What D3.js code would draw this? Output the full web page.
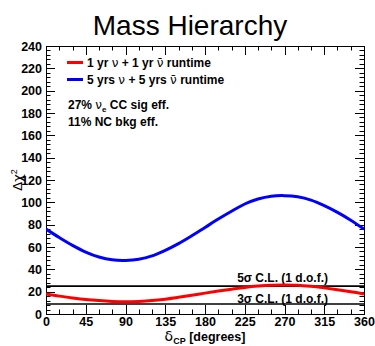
<!DOCTYPE html>
<html>
<head>
<meta charset="utf-8">
<script src="https://cdn.jsdelivr.net/npm/d3@7"></script>
<style>
  html, body { margin: 0; padding: 0; background: #fff; }
  svg { display: block; }
  text { font-family: "Liberation Sans", Arial, Helvetica, sans-serif; }
</style>
</head>
<body>
<svg id="chart" width="375" height="346"></svg>
<script>
// δCP sampling points (degrees)
const deltaCP = [0, 15, 30, 45, 60, 75, 90, 105, 120, 135, 150, 165, 180,
                 195, 210, 225, 240, 255, 270, 285, 300, 315, 330, 345, 360];

// Δχ² for 1 yr ν + 1 yr ν̄ runtime
const chi2OneYear = [18, 16, 14.4, 13, 12, 11.3, 11, 11.3, 12, 13.3, 15, 16.8, 18.7,
                     20.5, 22.2, 23.8, 25, 25.8, 26, 25.8, 24.8, 23.4, 21.8, 20, 18];

// Δχ² for 5 yrs ν + 5 yrs ν̄ runtime
const chi2FiveYears = [76, 68.5, 61.5, 55.5, 51, 48.5, 48, 49, 52, 57, 63, 70, 77.5,
                       85, 92, 98.5, 103, 105.5, 106, 105, 102, 97, 91, 84, 76];

// Confidence-level reference lines (1 d.o.f.)
const clLevels = [25, 9];
const clLabels = ["5σ C.L. (1 d.o.f.)", "3σ C.L. (1 d.o.f.)"];

const xTicks = [0, 45, 90, 135, 180, 225, 270, 315, 360];
const yTicks = [0, 20, 40, 60, 80, 100, 120, 140, 160, 180, 200, 220, 240];

const svg = d3.select("#chart");
const L = 46, R = 364, T = 46, B = 314;

const x = d3.scaleLinear().domain([0, 360]).range([L, R]);
const y = d3.scaleLinear().domain([0, 240]).range([B, T]);

// Title
svg.append("text")
  .attr("x", 190).attr("y", 35)
  .attr("text-anchor", "middle")
  .style("font-size", "28px")
  .text("Mass Hierarchy");

// Tick marks on all four sides (major + minor)
const xMinor = d3.range(0, 361, 15);
const yMinor = d3.range(0, 241, 4);
const tickG = svg.append("g").attr("stroke", "#000").attr("stroke-width", 1);
const majLen = 9, minLen = 4.5;
xMinor.forEach(v => {
  const len = (v % 45 === 0) ? majLen : minLen;
  const px = Math.round(x(v)) + 0.5;
  tickG.append("line").attr("x1", px).attr("x2", px).attr("y1", B).attr("y2", B - len);
  tickG.append("line").attr("x1", px).attr("x2", px).attr("y1", T).attr("y2", T + len);
});
yMinor.forEach(v => {
  const len = (v % 20 === 0) ? majLen : minLen;
  const py = Math.round(y(v)) + 0.5;
  tickG.append("line").attr("x1", L).attr("x2", L + len).attr("y1", py).attr("y2", py);
  tickG.append("line").attr("x1", R).attr("x2", R - len).attr("y1", py).attr("y2", py);
});

// Tick labels through axis generators (tick lines hidden, drawn above)
const xAxis = svg.append("g")
  .attr("transform", `translate(0,${B})`)
  .call(d3.axisBottom(x).tickValues(xTicks).tickSize(0).tickPadding(3).tickFormat(d3.format("d")));
const yAxis = svg.append("g")
  .attr("transform", `translate(${L},0)`)
  .call(d3.axisLeft(y).tickValues(yTicks).tickSize(0).tickPadding(4).tickFormat(d3.format("d")));
[xAxis, yAxis].forEach(g => {
  g.select(".domain").remove();
  g.selectAll("text")
    .style("font-family", "'Liberation Sans', Arial, sans-serif")
    .style("font-size", "12.5px")
    .style("font-weight", "bold")
    .attr("fill", "#000");
});

// Frame
svg.append("rect")
  .attr("x", L + 0.5).attr("y", T + 0.5)
  .attr("width", R - L).attr("height", B - T)
  .attr("fill", "none").attr("stroke", "#000").attr("stroke-width", 1);

// CL reference lines
clLevels.forEach((lv, i) => {
  svg.append("line")
    .attr("x1", L).attr("x2", R)
    .attr("y1", y(lv)).attr("y2", y(lv))
    .attr("stroke", "#000").attr("stroke-width", 1.6);
});
svg.append("text")
  .attr("x", 328).attr("y", y(clLevels[0]) - 4)
  .attr("text-anchor", "end")
  .style("font-size", "12px").style("font-weight", "bold")
  .text(clLabels[0]);
svg.append("text")
  .attr("x", 328).attr("y", y(clLevels[1]) - 1)
  .attr("text-anchor", "end")
  .style("font-size", "12px").style("font-weight", "bold")
  .text(clLabels[1]);

// Curves
const line = d3.line()
  .x((d, i) => x(deltaCP[i]))
  .y(d => y(d))
  .curve(d3.curveCatmullRom.alpha(0.5));

const plot = svg.append("g");
plot.append("clipPath").attr("id", "clip")
  .append("rect").attr("x", L).attr("y", T).attr("width", R - L).attr("height", B - T);
const curves = plot.append("g").attr("clip-path", "url(#clip)");
curves.append("path")
  .datum(chi2OneYear)
  .attr("d", line)
  .attr("fill", "none").attr("stroke", "#ff0000").attr("stroke-width", 3);
curves.append("path")
  .datum(chi2FiveYears)
  .attr("d", line)
  .attr("fill", "none").attr("stroke", "#0000ff").attr("stroke-width", 3);

// Legend
const legend = svg.append("g").style("font-size", "12px").style("font-weight", "bold");
const legendItems = [
  { color: "#ff0000", n: "1", unit: "yr", yy: 62.5 },
  { color: "#0000ff", n: "5", unit: "yrs", yy: 79.5 }
];
legendItems.forEach(it => {
  legend.append("line")
    .attr("x1", 67).attr("x2", 83).attr("y1", it.yy).attr("y2", it.yy)
    .attr("stroke", it.color).attr("stroke-width", 3);
  const t = legend.append("text").attr("x", 87).attr("y", it.yy + 4.5);
  t.append("tspan").text(`${it.n} ${it.unit} `);
  t.append("tspan").style("font-weight", "normal").style("font-family", "'DejaVu Sans', sans-serif").text("ν");
  t.append("tspan").text(` + ${it.n} ${it.unit} `);
  t.append("tspan").style("font-weight", "normal").style("font-family", "'DejaVu Sans', sans-serif").text("ν\u0304");
  t.append("tspan").text(" runtime");
});

const eff = svg.append("g").style("font-size", "12px").style("font-weight", "bold");
const t1 = eff.append("text").attr("x", 68).attr("y", 109);
t1.append("tspan").text("27% ");
t1.append("tspan").style("font-weight", "normal").style("font-family", "'DejaVu Sans', sans-serif").text("ν");
t1.append("tspan").attr("dy", 3).style("font-size", "8px").text("e");
t1.append("tspan").attr("dy", -3).text(" CC sig eff.");
eff.append("text").attr("x", 68).attr("y", 126).text("11% NC bkg eff.");

// Axis titles
const xt = svg.append("text")
  .attr("x", 205).attr("y", 341)
  .attr("text-anchor", "middle")
  .style("font-size", "12.5px").style("font-weight", "bold");
xt.append("tspan").style("font-weight", "normal").style("font-family", "'DejaVu Sans', sans-serif").style("font-size", "14px").text("δ");
xt.append("tspan").attr("dy", 3).style("font-size", "9px").text("CP");
xt.append("tspan").attr("dy", -3).text(" [degrees]");

const yt = svg.append("text")
  .attr("transform", `translate(22,180) rotate(-90)`)
  .attr("text-anchor", "middle")
  .style("font-size", "13px");
yt.append("tspan").style("font-family", "'DejaVu Sans', sans-serif").text("Δχ");
yt.append("tspan").attr("dy", -5).style("font-size", "9px").text("2");
</script>
</body>
</html>
